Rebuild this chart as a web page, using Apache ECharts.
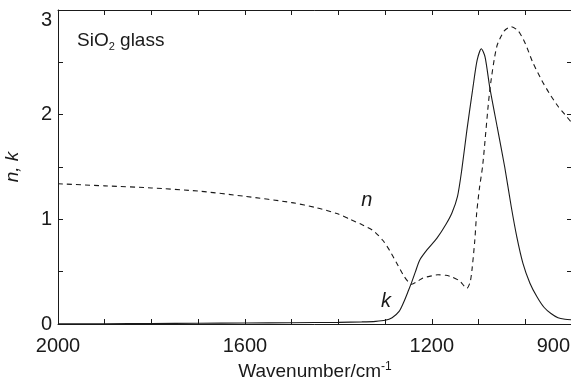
<!DOCTYPE html>
<html>
<head>
<meta charset="utf-8">
<script src="https://cdn.jsdelivr.net/npm/echarts@6/dist/echarts.min.js"></script>
<style>
  html, body { margin: 0; padding: 0; background: #fff; }
  #chart { width: 571px; height: 379px; }
</style>
</head>
<body>
<div id="chart"></div>
<script>
// Optical constants of SiO2 glass in the mid-infrared (wavenumber in cm^-1)
const nWavenumbers = [2000, 1900, 1800, 1700, 1600, 1500, 1446, 1400, 1375, 1350, 1325, 1305, 1290, 1275, 1260, 1250, 1243, 1230, 1219, 1200, 1187, 1170, 1157, 1140, 1125, 1118, 1114, 1108, 1104, 1098, 1091, 1076, 1061, 1045, 1030, 1015, 1000, 984, 965, 948, 930, 915, 900];
const nValues      = [1.34, 1.32, 1.30, 1.27, 1.22, 1.16, 1.11, 1.05, 1.00, 0.95, 0.89, 0.80, 0.70, 0.58, 0.46, 0.40, 0.38, 0.41, 0.44, 0.46, 0.47, 0.465, 0.45, 0.41, 0.34, 0.40, 0.52, 0.80, 1.06, 1.30, 1.52, 2.23, 2.65, 2.80, 2.84, 2.80, 2.68, 2.50, 2.33, 2.20, 2.08, 2.00, 1.92];

const kWavenumbers = [2000, 1900, 1800, 1700, 1600, 1500, 1400, 1350, 1320, 1300, 1285, 1270, 1260, 1250, 1243, 1235, 1226, 1210, 1189, 1170, 1157, 1145, 1136, 1125, 1112, 1103, 1094, 1086, 1076, 1060, 1044, 1030, 1018, 1005, 990, 975, 960, 945, 930, 915, 900];
const kValues      = [0.002, 0.003, 0.005, 0.007, 0.009, 0.012, 0.016, 0.02, 0.025, 0.035, 0.06, 0.12, 0.21, 0.32, 0.40, 0.50, 0.61, 0.71, 0.82, 0.95, 1.06, 1.22, 1.47, 1.85, 2.26, 2.52, 2.63, 2.55, 2.26, 1.88, 1.50, 1.12, 0.83, 0.58, 0.39, 0.26, 0.16, 0.10, 0.06, 0.045, 0.04];

const xLabelValues = [2000, 1600, 1200, 900];
const yLabelValues = [0, 1, 2, 3];

// Curve annotations placed in data coordinates
const nLabelAt = [1339, 1.18];
const kLabelAt = [1298, 0.22];

const ink = '#1a1a1a';
const font = 'Liberation Sans, Arial, sans-serif';

function pairs(xs, ys) { return xs.map((x, i) => [x, ys[i]]); }

const chart = echarts.init(document.getElementById('chart'), null, { renderer: 'canvas' });

const baseX = {
  type: 'value', min: 900, max: 2000, interval: 100, inverse: true,
  axisLine: { show: true, onZero: false, lineStyle: { color: ink, width: 1 } },
  axisTick: { show: true, inside: true, length: 5, lineStyle: { color: ink } },
  splitLine: { show: false }
};
const baseY = {
  type: 'value', min: 0, max: 3, interval: 0.5,
  axisLine: { show: true, onZero: false, lineStyle: { color: ink, width: 1 } },
  axisTick: { show: true, inside: true, length: 5, lineStyle: { color: ink } },
  splitLine: { show: false }
};

chart.setOption({
  animation: false,
  backgroundColor: '#fff',
  grid: { left: 58, top: 10, width: 514, height: 314, containLabel: false, outerBoundsMode: 'none' },
  xAxis: [
    Object.assign({}, baseX, {
      position: 'bottom',
      name: '{a|Wavenumber/cm}{s|-1}',
      nameLocation: 'middle',
      nameGap: 31,
      nameTextStyle: {
        rich: {
          a: { fontFamily: font, fontSize: 19, color: ink },
          s: { fontFamily: font, fontSize: 12, color: ink, verticalAlign: 'top', padding: [0, 0, 10, 0] }
        }
      },
      axisLabel: {
        show: true, margin: 12, fontFamily: font, fontSize: 20, color: ink,
        alignMinLabel: 'right',
        formatter: v => {
          if (!xLabelValues.includes(v)) return '';
          return v === 900 ? '{e|' + v + '}' : String(v);
        },
        rich: { e: { fontFamily: font, fontSize: 20, color: ink, padding: [0, 2, 0, 0] } }
      }
    }),
    Object.assign({}, baseX, { position: 'top', axisLabel: { show: false } })
  ],
  yAxis: [
    Object.assign({}, baseY, {
      position: 'left',
      name: 'n, k',
      nameLocation: 'middle',
      nameGap: 36,
      nameTextStyle: { fontFamily: font, fontSize: 19, fontStyle: 'italic', color: ink },
      axisLabel: {
        show: true, margin: 6, fontFamily: font, fontSize: 20, color: ink,
        verticalAlignMaxLabel: 'top',
        formatter: v => yLabelValues.includes(v) ? String(v) : ''
      }
    }),
    Object.assign({}, baseY, { position: 'right', axisLabel: { show: false } })
  ],
  series: [
    {
      name: 'n', type: 'line', xAxisIndex: 0, yAxisIndex: 0,
      data: pairs(nWavenumbers, nValues),
      smooth: 0.25, showSymbol: false, symbol: 'none',
      lineStyle: { color: ink, width: 1.1, type: [5, 4] },
      markPoint: {
        symbol: 'circle', symbolSize: 0,
        label: { show: true, position: 'inside', formatter: 'n', fontFamily: font, fontSize: 20, fontStyle: 'italic', color: ink },
        data: [{ coord: nLabelAt }]
      }
    },
    {
      name: 'k', type: 'line', xAxisIndex: 0, yAxisIndex: 0,
      data: pairs(kWavenumbers, kValues),
      smooth: 0.25, showSymbol: false, symbol: 'none',
      lineStyle: { color: ink, width: 1.1 },
      markPoint: {
        symbol: 'circle', symbolSize: 0,
        label: { show: true, position: 'inside', formatter: 'k', fontFamily: font, fontSize: 20, fontStyle: 'italic', color: ink },
        data: [{ coord: kLabelAt }]
      }
    }
  ],
  graphic: [
    {
      type: 'text', left: 77, top: 31,
      style: {
        text: '{a|SiO}{s|2}{a| glass}',
        rich: {
          a: { fontFamily: font, fontSize: 19, fill: ink, verticalAlign: 'bottom' },
          s: { fontFamily: font, fontSize: 11, fill: ink, verticalAlign: 'bottom', padding: [0, 0, -2, 0] }
        }
      }
    }
  ]
});
</script>
</body>
</html>
